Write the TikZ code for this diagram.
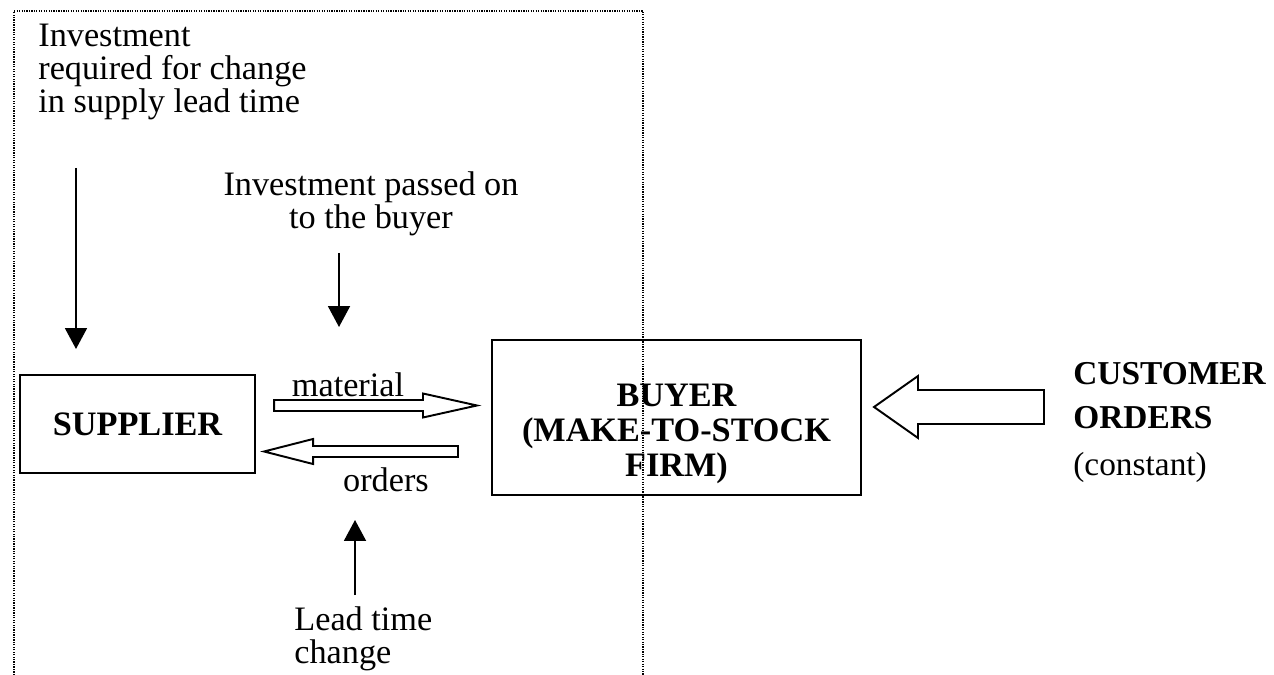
\documentclass[tikz,border=0pt]{standalone}
\usepackage{fontspec}
\setmainfont{Liberation Serif}
\usetikzlibrary{arrows.meta,positioning,calc}
\tikzset{
  firm/.style={
    draw=black,
    line width=1.2pt,
    inner sep=0pt
  },
  firmtext/.style={inner sep=0pt, align=center, font=\bfseries\fontsize{19.5}{19.8}\selectfont},
  note/.style={inner sep=0pt, font=\fontsize{19.5}{18.8}\selectfont},
  line/.style={-{Triangle[length=0.42cm,width=0.44cm]}, line width=1.1pt, draw=black},
  hollow/.style={draw=black, line width=1.1pt, fill=white, line join=miter},
  frame/.style={line width=1pt, dash pattern=on 0.7pt off 0.7pt}
}
% hollow block arrow: tail, tip, shaft half, head half, head length (signed)
\newcommand{\blockarrow}[5]{%
  \draw[hollow] ($(#1)+(0,#3)$) -- ($(#2)+(#5,#3)$) -- ($(#2)+(#5,#4)$) -- (#2)
    -- ($(#2)+(#5,-#4)$) -- ($(#2)+(#5,-#3)$) -- ($(#1)+(0,-#3)$) -- cycle;}

\begin{document}
\begin{tikzpicture}[x=0.02cm, y=-0.02cm]
\useasboundingbox (0,0) rectangle (1274,675);

% dotted frame round the supplier side
\draw[frame] (14,675) -- (14,11) -- (643,11) -- (643,675);

% boxes
\node[firm, minimum width=4.7cm, minimum height=1.96cm] (sup) at (137.5,424)
  {\bfseries\fontsize{19.5}{19.8}\selectfont SUPPLIER};
\node[firm, minimum width=7.38cm, minimum height=3.1cm] (buyer) at (676.5,417.5) {};
\node[firmtext, anchor=north] (buyertxt) at (676.5,384) {BUYER\\(MAKE-TO-STOCK\\FIRM)};

% texts
\node[note, anchor=north west, align=left] (invreq) at (38,24)
  {Investment\\required for change\\in supply lead time};
\node[note, anchor=north, align=center] (invpass) at (371,171)
  {Investment passed on\\to the buyer};
\node[note, anchor=north] (mat) at (348,372) {material};
\node[note, anchor=north] (ord) at (386,467) {orders};
\node[note, anchor=north west, align=left] (lead) at (294,606) {Lead time\\change};
\node[note, anchor=north west, align=left, font=\fontsize{19}{18.8}\selectfont] (cust) at (1073,362)
  {\bfseries CUSTOMER\\[6pt]\bfseries ORDERS\\[8.5pt](constant)};

% thin arrows
\coordinate (a1s) at (76,168);  \coordinate (a1e) at (76,349);
\coordinate (a2s) at (339,253); \coordinate (a2e) at (339,327);
\coordinate (a4s) at (355,595); \coordinate (a4e) at (355,520);
\draw[line] (a1s) -- (a1e);
\draw[line] (a2s) -- (a2e);
\draw[line] (a4s) -- (a4e);

% block arrows
\coordinate (mats) at ($(sup.east)+(18,-18.5)$);
\coordinate (mate) at ($(buyer.west)+(-14,-12)$);
\coordinate (ords) at ($(buyer.west)+(-33,34)$);
\coordinate (orde) at ($(sup.east)+(8,27.5)$);
\coordinate (custs) at (1044,407);
\coordinate (custe) at ($(buyer.east |- custs)+(12,0)$);
\blockarrow{mats}{mate}{5.5}{12}{-54}
\blockarrow{ords}{orde}{5.5}{12.5}{49}
\blockarrow{custs}{custe}{17}{31}{44}
\end{tikzpicture}
\end{document}
